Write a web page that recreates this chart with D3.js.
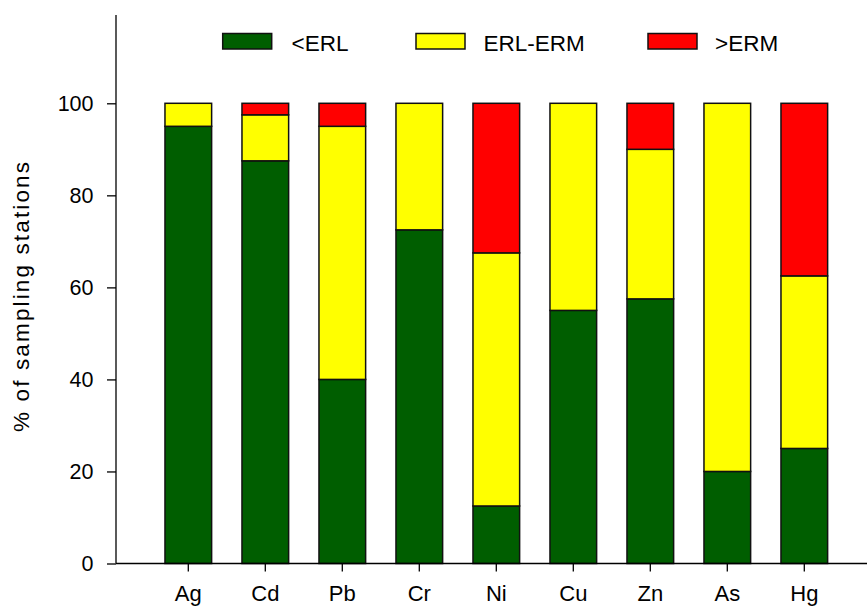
<!DOCTYPE html>
<html><head><meta charset="utf-8">
<script src="https://cdn.jsdelivr.net/npm/d3@7/dist/d3.min.js"></script>
<style>body{margin:0;background:#fff}svg{display:block}text{font-family:"Liberation Sans",Arial,sans-serif;fill:#000}</style>
</head><body>
<svg id="c" width="867" height="607"></svg>
<script>
const categories = ["Ag","Cd","Pb","Cr","Ni","Cu","Zn","As","Hg"];
const belowERL = [95, 87.5, 40, 72.5, 12.5, 55, 57.5, 20, 25];
const erlToErm = [5, 10, 55, 27.5, 55, 45, 32.5, 80, 37.5];
const aboveERM = [0, 2.5, 5, 0, 32.5, 0, 10, 0, 37.5];
const seriesNames = ["<ERL","ERL-ERM",">ERM"];
const seriesColors = ["#005E00","#FFFF00","#FF0000"];
const yTicks = [0,20,40,60,80,100];

const svg = d3.select("#c");
const x0 = 116, yZero = 563.5;
const y = d3.scaleLinear().domain([0,100]).range([yZero,103.3]);
const x = d3.scaleBand().domain(categories).range([149.8,842.8]).paddingInner(0.394).paddingOuter(0.197);

const rows = categories.map((c,i)=>({cat:c, "<ERL":belowERL[i], "ERL-ERM":erlToErm[i], ">ERM":aboveERM[i]}));
const stack = d3.stack().keys(seriesNames)(rows);

stack.forEach((s,si)=>{
  svg.append("g").selectAll("rect").data(s.filter(d=>d[1]-d[0]>0)).join("rect")
    .attr("x",d=>x(d.data.cat)).attr("width",x.bandwidth())
    .attr("y",d=>y(d[1])).attr("height",d=>y(d[0])-y(d[1]))
    .attr("fill",seriesColors[si]).attr("stroke","#111").attr("stroke-width",1.5);
});

// y axis
const yAxis = d3.axisLeft(y).tickValues(yTicks).tickSize(9).tickPadding(13.5).tickSizeOuter(0);
const gy = svg.append("g").attr("transform",`translate(${x0},0)`).call(yAxis);
gy.select(".domain").remove();
gy.selectAll("line").attr("stroke","#000").attr("stroke-width",1.3);
gy.selectAll("text").attr("font-size",21.5).attr("font-family","Liberation Sans, Arial, sans-serif");
svg.append("line").attr("x1",x0).attr("x2",x0).attr("y1",15).attr("y2",yZero).attr("stroke","#000").attr("stroke-width",1.3);

// x axis
const xAxis = d3.axisBottom(x).tickSize(8).tickPadding(14).tickSizeOuter(0);
const gx = svg.append("g").attr("transform",`translate(0,${yZero})`).call(xAxis);
gx.select(".domain").remove();
gx.selectAll("line").attr("stroke","#000").attr("stroke-width",1.3);
gx.selectAll("text").attr("font-size",22).attr("font-family","Liberation Sans, Arial, sans-serif");
svg.append("line").attr("x1",x0).attr("x2",867).attr("y1",yZero).attr("y2",yZero).attr("stroke","#000").attr("stroke-width",1.3);

// y title
svg.append("text").attr("transform","translate(28.5,297) rotate(-90)").attr("text-anchor","middle")
  .attr("font-size",22.5).attr("textLength",270).attr("lengthAdjust","spacing").text("% of sampling stations");

// legend
const legX = [222.7,416,648], legTextX = [291.5,483.5,715];
seriesNames.forEach((n,i)=>{
  svg.append("rect").attr("x",legX[i]).attr("y",33.5).attr("width",49).attr("height",15.5)
    .attr("fill",seriesColors[i]).attr("stroke","#111").attr("stroke-width",1.5);
  svg.append("text").attr("x",legTextX[i]).attr("y",50.5).attr("font-size",22.5).text(n);
});
</script>
</body></html>
